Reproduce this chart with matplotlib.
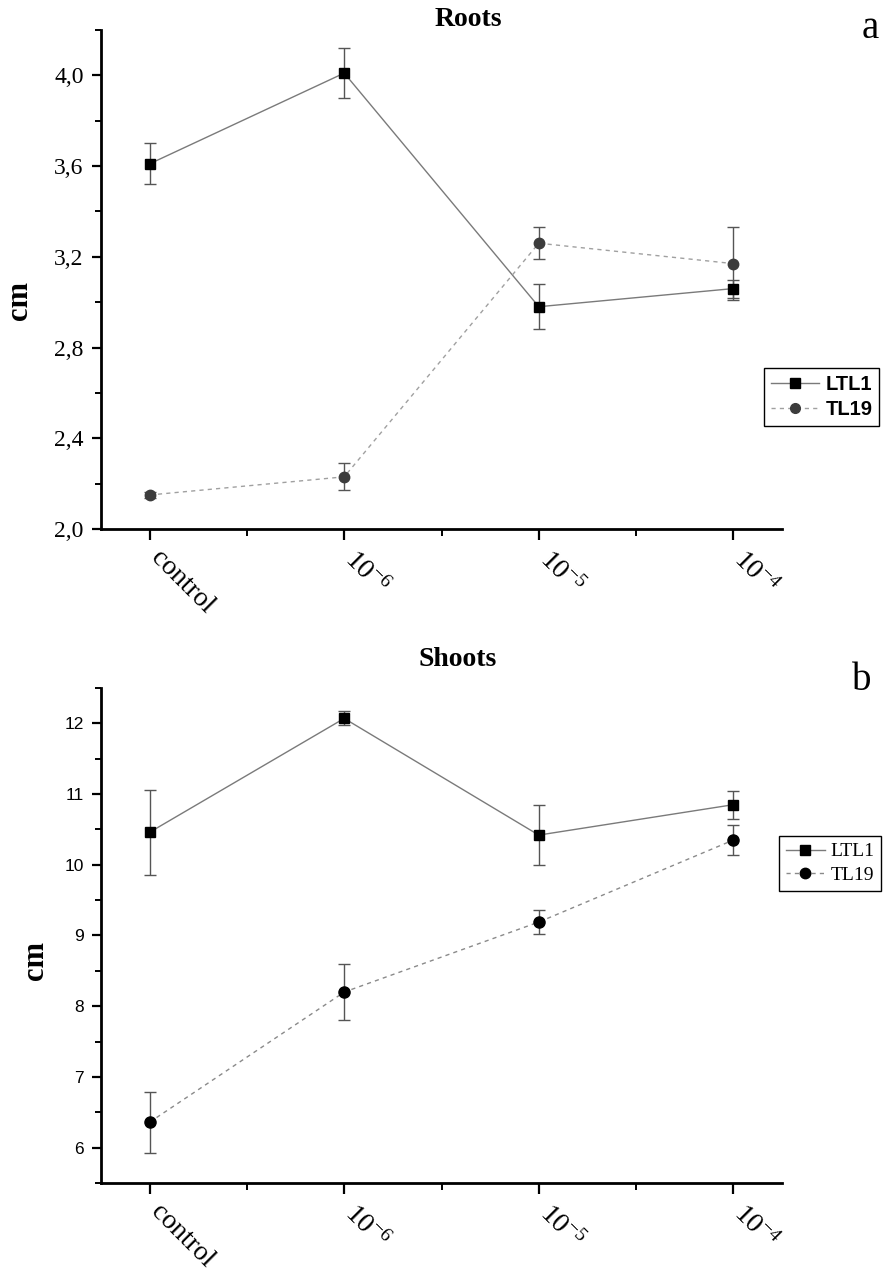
import matplotlib
matplotlib.use("Agg")
import matplotlib.pyplot as plt
from matplotlib.ticker import MultipleLocator, FuncFormatter, FixedLocator
from matplotlib.transforms import ScaledTranslation

plt.rcParams["mathtext.fontset"] = "custom"
plt.rcParams["mathtext.rm"] = "Liberation Serif"
plt.rcParams["mathtext.it"] = "Liberation Serif:italic"

# dados
DOSES = ["control", r"$\mathregular{10^{-6}}$", r"$\mathregular{10^{-5}}$", r"$\mathregular{10^{-4}}$"]

ROOTS_LTL1 = [3.61, 4.01, 2.98, 3.06]
ROOTS_LTL1_ERR = [0.09, 0.11, 0.10, 0.04]
ROOTS_TL19 = [2.15, 2.23, 3.26, 3.17]
ROOTS_TL19_ERR = [0.015, 0.06, 0.07, 0.16]

SHOOTS_LTL1 = [10.46, 12.07, 10.42, 10.85]
SHOOTS_LTL1_ERR = [0.60, 0.10, 0.42, 0.20]
SHOOTS_TL19 = [6.36, 8.20, 9.19, 10.35]
SHOOTS_TL19_ERR = [0.43, 0.40, 0.17, 0.21]

SERIF = "Liberation Serif"
SANS = "Liberation Sans"
W, H = 891, 1277


def style_axes(fig, ax, ylim, major, minor, tick_font, tick_size, fmt):
    x = list(range(len(DOSES)))
    ax.set_xlim(-0.25, len(DOSES) - 0.75)
    ax.set_ylim(*ylim)
    for side in ("top", "right"):
        ax.spines[side].set_visible(False)
    for side in ("left", "bottom"):
        ax.spines[side].set_linewidth(2)
    ax.set_xticks(x)
    ax.xaxis.set_minor_locator(FixedLocator([v + 0.5 for v in x[:-1]]))
    ax.set_xticklabels(DOSES, rotation=-45, ha="left", va="top",
                       rotation_mode="anchor", fontsize=20, family=SERIF)
    ax.yaxis.set_major_locator(MultipleLocator(major))
    ax.yaxis.set_minor_locator(MultipleLocator(minor))
    ax.yaxis.set_major_formatter(FuncFormatter(fmt))
    for lab in ax.get_yticklabels():
        lab.set_family(tick_font)
        lab.set_fontsize(tick_size)
    ax.tick_params(axis="y", which="major", direction="out", length=6.5, width=1.6, pad=6)
    ax.tick_params(axis="y", which="minor", direction="out", length=4, width=1.4)
    ax.tick_params(axis="x", which="major", direction="out", length=8, width=1.6, pad=4)
    ax.tick_params(axis="x", which="minor", direction="out", length=5, width=1.4)
    # desloca os rótulos inclinados para começarem sob o tick
    off = ScaledTranslation(0.14, 0, fig.dpi_scale_trans)
    for lab in ax.xaxis.get_majorticklabels():
        lab.set_transform(lab.get_transform() + off)


def draw_series(ax, y, err, marker, mcolor, ls, lcolor, label, ms):
    x = list(range(len(y)))
    ax.errorbar(x, y, yerr=err, fmt="none", ecolor="#555555", elinewidth=1,
                capsize=4, capthick=1, zorder=2)
    ax.plot(x, y, linestyle=ls, color=lcolor, linewidth=1, zorder=1)
    ax.plot(x, y, linestyle="none", marker=marker, color=mcolor, ms=ms, zorder=3)
    # handle para legenda
    return ax.plot([], [], linestyle=ls, color=lcolor, linewidth=1,
                   marker=marker, markerfacecolor=mcolor, markeredgecolor=mcolor,
                   ms=ms - 0.5, label=label)[0]


def add_legend(fig, handles, x0, y0, prop, handlelength):
    leg = fig.legend(handles=handles, loc="upper left",
                     bbox_to_anchor=(x0 / W, 1 - y0 / H), borderaxespad=0,
                     prop=prop, handlelength=handlelength, handletextpad=0.3,
                     fancybox=False, edgecolor="black", framealpha=1,
                     borderpad=0.35, labelspacing=0.3)
    leg.get_frame().set_linewidth(1)
    return leg


fig = plt.figure(figsize=(W / 100, H / 100), dpi=100)

comma = lambda v, pos: f"{v:.1f}".replace(".", ",")
plain = lambda v, pos: f"{v:.0f}"

# --- Roots ---
ax1 = fig.add_axes([101 / W, 1 - 529 / H, 681 / W, 499 / H])
h1 = draw_series(ax1, ROOTS_LTL1, ROOTS_LTL1_ERR, "s", "black", "-", "#7a7a7a", "LTL1", 7)
h2 = draw_series(ax1, ROOTS_TL19, ROOTS_TL19_ERR, "o", "#3c3c3c", (0, (3, 3)), "#a0a0a0", "TL19", 7.5)
style_axes(fig, ax1, (2.0, 4.2), 0.4, 0.2, SERIF, 17, comma)
fig.text(468 / W, 1 - 19 / H, "Roots", family=SERIF, fontweight="bold", fontsize=20,
         ha="center", va="center")
fig.text(20 / W, 1 - 300 / H, "cm", rotation=90, family=SERIF, fontweight="bold",
         fontsize=22, ha="center", va="center")
fig.text(870 / W, 1 - 28 / H, "a", family=SERIF, fontsize=28, ha="center", va="center")
add_legend(fig, [h1, h2], 764, 368, {"family": SANS, "weight": "bold", "size": 14.5}, 2.4)

# --- Shoots ---
ax2 = fig.add_axes([101 / W, 1 - 1183 / H, 681 / W, 495 / H])
h3 = draw_series(ax2, SHOOTS_LTL1, SHOOTS_LTL1_ERR, "s", "black", "-", "#7a7a7a", "LTL1", 7)
h4 = draw_series(ax2, SHOOTS_TL19, SHOOTS_TL19_ERR, "o", "black", (0, (3, 3)), "#8a8a8a", "TL19", 8)
style_axes(fig, ax2, (5.5, 12.5), 1, 0.5, SANS, 12.5, plain)
fig.text(458 / W, 1 - 660 / H, "Shoots", family=SERIF, fontweight="bold", fontsize=20,
         ha="center", va="center")
fig.text(35 / W, 1 - 960 / H, "cm", rotation=90, family=SERIF, fontweight="bold",
         fontsize=22, ha="center", va="center")
fig.text(862 / W, 1 - 680 / H, "b", family=SERIF, fontsize=28, ha="center", va="center")
add_legend(fig, [h3, h4], 779, 836, {"family": SERIF, "size": 14}, 2.0)

fig.savefig("out.png", dpi=100)
